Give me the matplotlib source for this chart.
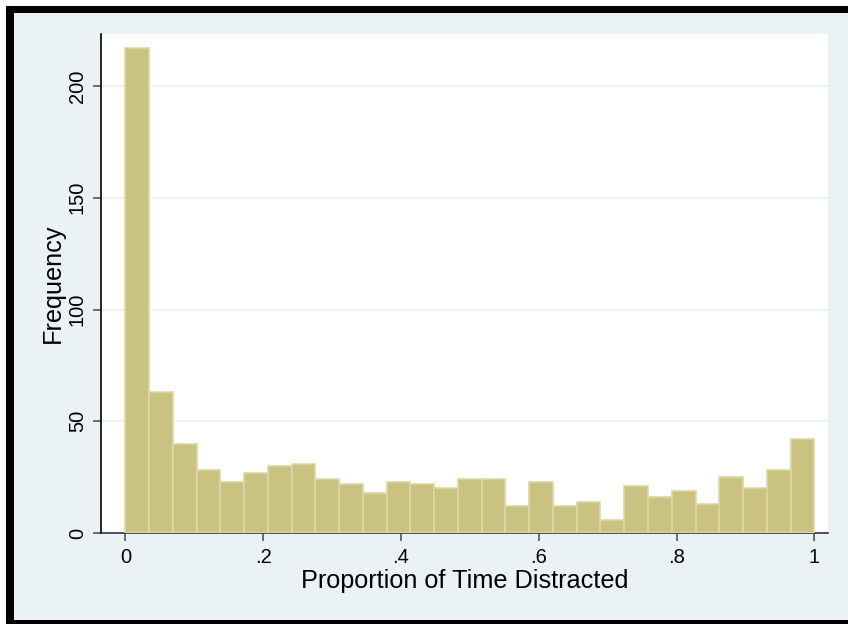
import numpy as np
import matplotlib.pyplot as plt
from matplotlib.patches import Rectangle

plt.rcParams['font.family'] = ['Liberation Sans', 'DejaVu Sans']

# frequency in each of the 29 equal-width bins over [0, 1]
counts = [217, 63, 40, 28, 23, 27, 30, 31, 24, 22, 18, 23, 22, 20, 24,
          24, 12, 23, 12, 14, 6, 21, 16, 19, 13, 25, 20, 28, 42]
x_ticks = [0, 0.2, 0.4, 0.6, 0.8, 1.0]
x_labels = ['0', '.2', '.4', '.6', '.8', '1']
y_ticks = [0, 50, 100, 150, 200]

edges = np.linspace(0, 1, len(counts) + 1)
W, H = 848, 624

fig = plt.figure(figsize=(W / 100, H / 100), dpi=100, facecolor='white')

# black frame and light bluish-gray graph region
fig.patches.append(Rectangle((6 / W, 0), 1, (H - 6) / H, transform=fig.transFigure,
                             facecolor='black', edgecolor='none', zorder=-3))
fig.patches.append(Rectangle((14 / W, (H - 620) / H), 1, (620 - 13) / H,
                             transform=fig.transFigure, facecolor='#EAF2F3',
                             edgecolor='none', zorder=-2))

ax = fig.add_axes([100.7 / W, (H - 533) / H, (828 - 100.7) / W, (533 - 34) / H])
ax.set_facecolor('white')

ax.bar(edges[:-1], counts, width=np.diff(edges), align='edge',
       color='#CAC280', edgecolor='#DDD8A5', linewidth=1.2, zorder=3)

ax.set_xlim(-0.0358, 1.0199)
ax.set_ylim(0, 223.3)
ax.set_xticks(x_ticks)
ax.set_xticklabels(x_labels)
ax.set_yticks(y_ticks)
ax.set_yticklabels([str(v) for v in y_ticks], rotation=90, va='center')

ax.grid(axis='y', color='#EAF2F3', linewidth=1.5, zorder=0)
ax.set_axisbelow(True)

for side in ['top', 'right']:
    ax.spines[side].set_visible(False)
ax.spines['left'].set_color('black')
ax.spines['bottom'].set_color('#333333')
ax.spines['left'].set_linewidth(1.2)
ax.spines['bottom'].set_linewidth(1.2)

ax.tick_params(axis='both', direction='out', length=6, width=1.2,
               color='#555555', labelsize=14.5, labelcolor='black')
ax.tick_params(axis='x', pad=5)
ax.tick_params(axis='y', pad=4)

ax.set_xlabel('Proportion of Time Distracted', fontsize=18.2, labelpad=1)
ax.set_ylabel('Frequency', fontsize=18.2, labelpad=2)

fig.savefig('out.png', dpi=100, facecolor=fig.get_facecolor())
